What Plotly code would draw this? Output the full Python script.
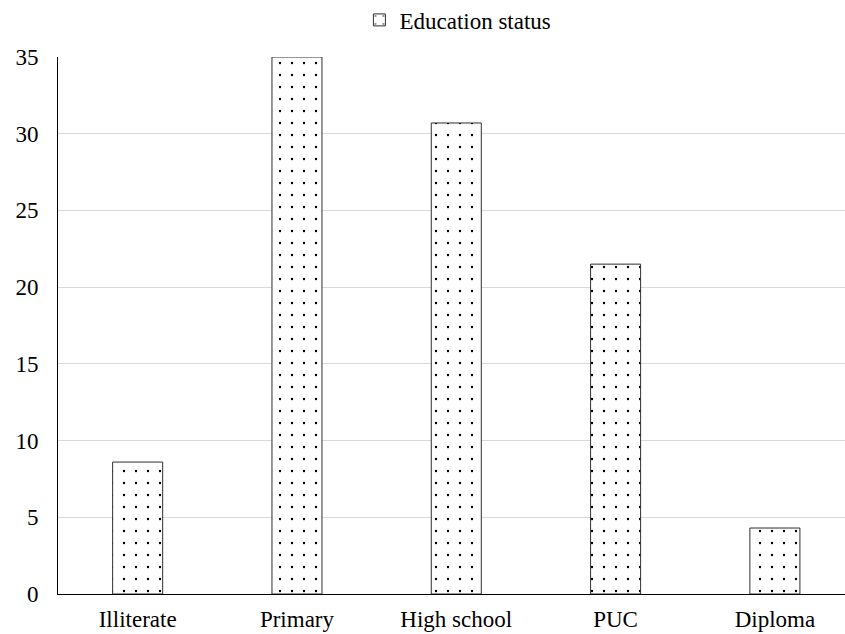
import plotly.graph_objects as go

# Education status of respondents (%)
categories = ["Illiterate", "Primary", "High school", "PUC", "Diploma"]
values = [8.6, 35.0, 30.7, 21.5, 4.3]
y_ticks = [0, 5, 10, 15, 20, 25, 30, 35]

FONT = "Liberation Serif, Times New Roman, serif"

fig = go.Figure()
fig.add_trace(go.Bar(
    x=categories,
    y=values,
    name="Education status",
    marker=dict(
        color="white",
        line=dict(color="#303030", width=1),
        pattern=dict(shape=".", size=12, solidity=0.03,
                     fgcolor="black", bgcolor="white", fillmode="replace"),
    ),
))

fig.update_layout(
    width=845, height=634,
    margin=dict(l=58, r=0, t=57, b=40, autoexpand=False),
    paper_bgcolor="white", plot_bgcolor="white",
    font=dict(family=FONT, size=23, color="black"),
    bargap=0.686,
    showlegend=True,
    legend=dict(orientation="h", x=0.383, xanchor="left",
                yref="container", y=0.9685, yanchor="middle",
                font=dict(size=23), bgcolor="rgba(0,0,0,0)"),
    xaxis=dict(
        range=[-0.5, 4.44],
        showgrid=False, showline=True, linecolor="black", linewidth=1,
        ticks="", ticklabelstandoff=4, zeroline=False,
    ),
    yaxis=dict(
        range=[0, 35], tickvals=y_ticks,
        showgrid=True, gridcolor="#d9d9d9", gridwidth=1,
        showline=True, linecolor="black", linewidth=1,
        ticks="", ticklabelstandoff=14, zeroline=False,
    ),
)

fig.write_html("out.html")
